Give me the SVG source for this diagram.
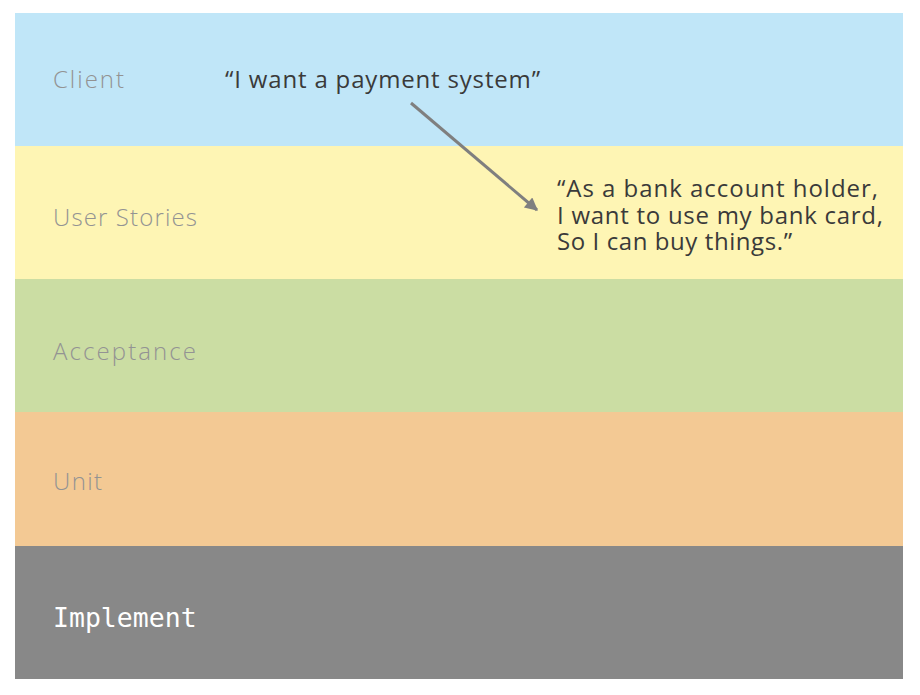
<svg xmlns="http://www.w3.org/2000/svg" width="920" height="695" viewBox="0 0 920 695">
<defs>
<style>
.lbl{font-family:"Open Sans",Lato,sans-serif;font-weight:300;font-size:24px;fill:#939393}
.txt{font-family:"Open Sans",Lato,sans-serif;font-weight:400;font-size:24px;fill:#3a3a3a}
.mono{font-family:"DejaVu Sans Mono",monospace;font-size:26.5px;fill:#ffffff}
</style>
<marker id="ah" viewBox="0 0 10 10" refX="9" refY="5" markerWidth="16" markerHeight="13" markerUnits="userSpaceOnUse" orient="auto">
<path d="M0,0 L10,5 L0,10 Z" fill="#7f7f7f"/>
</marker>
</defs>
<rect width="920" height="695" fill="#ffffff"/>
<g id="client">
<rect x="15" y="13" width="888" height="133" fill="#c0e6f8"/>
<text class="lbl" x="53" y="88" textLength="71" lengthAdjust="spacing">Client</text>
<text class="txt" x="225" y="88" textLength="315" lengthAdjust="spacing">“I want a payment system”</text>
</g>
<g id="user-stories">
<rect x="15" y="146" width="888" height="133" fill="#fef5b4"/>
<text class="lbl" x="53" y="226" textLength="144" lengthAdjust="spacing">User Stories</text>
<text class="txt"><tspan x="557" y="197" textLength="321" lengthAdjust="spacing">“As a bank account holder,</tspan><tspan x="557" y="224" textLength="326" lengthAdjust="spacing">I want to use my bank card,</tspan><tspan x="557" y="250" textLength="235" lengthAdjust="spacing">So I can buy things.”</tspan></text>
</g>
<g id="acceptance">
<rect x="15" y="279" width="888" height="133" fill="#cbdda3"/>
<text class="lbl" x="53" y="360" textLength="143" lengthAdjust="spacing">Acceptance</text>
</g>
<g id="unit">
<rect x="15" y="412" width="888" height="134" fill="#f3c994"/>
<text class="lbl" x="53" y="490" textLength="49" lengthAdjust="spacing">Unit</text>
</g>
<g id="implement">
<rect x="15" y="546" width="888" height="133" fill="#888888"/>
<text class="mono" x="53" y="627">Implement</text>
</g>
<g id="connectors">
<line x1="411" y1="103" x2="537" y2="210" stroke="#7f7f7f" stroke-width="3" marker-end="url(#ah)"/>
</g>
</svg>
